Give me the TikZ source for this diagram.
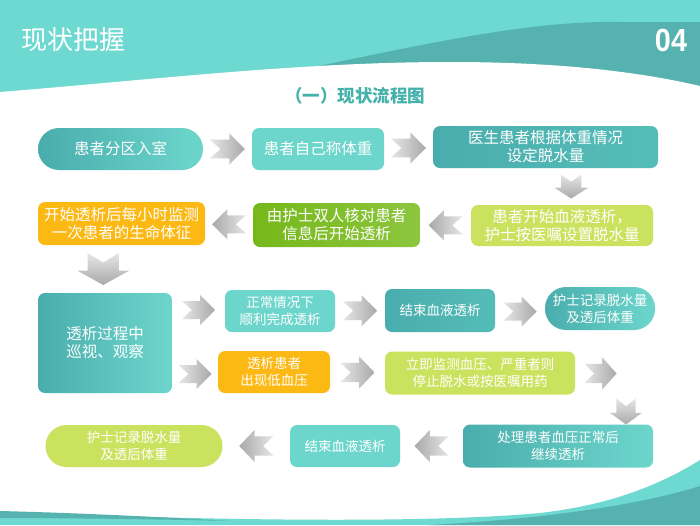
\documentclass[tikz,border=0pt]{standalone}
\usepackage{fontspec}
\setmainfont{Noto Sans CJK SC}
\newfontfamily\numfont{Liberation Sans}
\usetikzlibrary{calc}
\definecolor{hdlight}{HTML}{6DD9D0}
\definecolor{hddark}{HTML}{55B2AE}
\definecolor{teallight}{HTML}{6DD6CC}
\definecolor{tealdark}{HTML}{49ADAD}
\definecolor{tealmid}{HTML}{55BDB8}
\definecolor{amberc}{HTML}{FCB813}
\definecolor{limec}{HTML}{CBE25E}
\definecolor{greenA}{HTML}{76B81A}
\definecolor{greenB}{HTML}{8CC63E}
\definecolor{arrowlight}{HTML}{E6E6E6}
\definecolor{arrowdark}{HTML}{A9A9A9}
\definecolor{subtitle}{HTML}{45B1AB}
\begin{document}
\begin{tikzpicture}[x=1pt,y=-1pt,
  box/.style={rounded corners=7pt, text=white, align=center, inner sep=0pt},
  pill/.style={box, rounded corners=21pt},
  big/.style={font=\fontsize{15.5}{18}\selectfont},
  small/.style={font=\fontsize{13.5}{17}\selectfont},
  sz/.style 2 args={minimum width=#1pt, minimum height=#2pt},
  gteal/.style={left color=tealdark, right color=teallight},
  lteal/.style={fill=teallight},
  dteal/.style={left color=tealdark, right color=tealmid},
  amber/.style={fill=amberc},
  lime/.style={fill=limec},
  greenbox/.style={left color=greenA, right color=greenB},
  pics/barrow/.style n args={3}{code={
    \shade[shading=axis, top color=arrowlight, bottom color=arrowdark, shading angle=#3]
      (-#1/2,-0.3*#2) -- (0.05*#1,-0.3*#2) -- (0.05*#1,-#2/2) -- (#1/2,0)
      -- (0.05*#1,#2/2) -- (0.05*#1,0.3*#2) -- (-#1/2,0.3*#2) -- (-0.2*#1,0) -- cycle;
  }}
]
\useasboundingbox (0,0) rectangle (700,525);
\fill[white] (0,0) rectangle (700,525);

% header
\fill[hdlight] (0,0) rectangle (700,100);
\fill[hddark] (250,80) .. controls (400,50) and (520,20) .. (620,22) -- (700,22) -- (700,100) -- (250,100) -- cycle;
\fill[white] (0,92) .. controls (150,80) and (300,62) .. (450,62) .. controls (560,62) and (640,72) .. (700,86) -- (700,110) -- (0,110) -- cycle;

% footer
\fill[hdlight] (0,512) .. controls (200,520) and (420,524) .. (540,513) .. controls (610,505) and (660,485) .. (700,460) -- (700,525) -- (0,525) -- cycle;
\fill[hddark] (430,525) .. controls (560,518) and (650,502) .. (700,486) -- (700,525) -- cycle;
\fill[hddark] (0,511) .. controls (80,513) and (160,517) .. (230,521) .. controls (150,519) and (60,518) .. (0,518) -- cycle;

% titles
\node[text=white, font=\fontsize{26}{30}\selectfont, anchor=west, inner sep=0pt] (title) at (21,40) {现状把握};
\node[text=white, font=\numfont\bfseries\fontsize{32}{34}\selectfont, xscale=0.9, inner sep=0pt] (num) at (671,40) {04};
\node[text=subtitle, font=\bfseries\fontsize{17.5}{20}\selectfont, inner sep=0pt] (sub) at (355,96) {（一）现状流程图};

% row 1
\node[pill, big, gteal, sz={165}{42}] (A1) at (120.5,149) {患者分区入室};
\node[box, big, lteal, sz={132}{42}] (A2) at (318,149) {患者自己称体重};
\node[box, big, dteal, sz={225}{42}] (A3) at (545.5,147) {医生患者根据体重情况\\设定脱水量};

% row 2
\node[box, big, lime, sz={182}{41}] (B1) at (562,225.5) {患者开始血液透析，\\护士按医嘱设置脱水量};
\node[box, big, greenbox, sz={167}{44}] (B2) at (336.5,225) {由护士双人核对患者\\信息后开始透析};
\node[box, big, amber, sz={167}{43}] (B3) at (121.5,223.5) {开始透析后每小时监测\\一次患者的生命体征};

% row 3
\node[box, big, gteal, sz={134}{100}] (C1) at (105,343) {透析过程中\\巡视、观察};
\node[box, small, lteal, sz={110}{42}] (C2) at (280,311) {正常情况下\\顺利完成透析};
\node[box, small, dteal, sz={110}{43}] (C3) at (440,310.5) {结束血液透析};
\node[pill, small, gteal, sz={110}{43}] (C4) at (600,308.5) {护士记录脱水量\\及透后体重};

\node[box, small, amber, sz={112}{42}] (D1) at (274,372) {透析患者\\出现低血压};
\node[box, small, lime, sz={190}{43}] (D2) at (480,373) {立即监测血压、严重者则\\停止脱水或按医嘱用药};
\coordinate (Dturn) at (626,374);

% row 4
\node[box, small, gteal, sz={190}{43}] (E1) at (558,446) {处理患者血压正常后\\继续透析};
\node[box, small, lteal, sz={110}{42}] (E2) at (345,446) {结束血液透析};
\node[pill, small, lime, sz={177}{42}] (E3) at (134,446) {护士记录脱水量\\及透后体重};

% arrows
\pic at ($(A1.east)!0.5!(A2.west)$) {barrow={35}{31}{90}};
\pic at ($(A2.east)!0.5!(A3.west)$) {barrow={35}{31}{90}};
\pic[rotate=-90] at ($(A3.south)!0.5!(B1.north) + (17.5,0)$) {barrow={24}{34}{0}};
\pic[rotate=180] at ($(B1.west)!0.5!(B2.east)$) {barrow={34}{30}{-90}};
\pic[rotate=180] at ($(B2.west)!0.5!(B3.east)$) {barrow={34}{30}{-90}};
\pic[rotate=-90] at ($(B3.south)!0.5!(C1.north) + (-10,0)$) {barrow={32}{52}{0}};
\pic at ($(C1.east |- C2.west)!0.5!(C2.west) + (0,-1)$) {barrow={33}{30}{90}};
\pic at ($(C2.east)!0.5!(C3.west)$) {barrow={34}{31}{90}};
\pic at ($(C3.east)!0.5!(C4.west) + (0,2)$) {barrow={33}{30}{90}};
\pic at ($(C1.east |- D1.west)!0.5!(D1.west) + (0,2)$) {barrow={33}{30}{90}};
\pic at ($(D1.east)!0.5!(D2.west)$) {barrow={34}{32}{90}};
\pic at ($(D2.east)!0.5!(Dturn) + (0,0)$) {barrow={32}{32}{90}};
\pic[rotate=-90] at ($(Dturn |- D2.south)!0.5!(Dturn |- E1.north) + (0,2)$) {barrow={26}{32}{0}};
\pic[rotate=180] at ($(E1.west)!0.5!(E2.east)$) {barrow={34}{32}{-90}};
\pic[rotate=180] at ($(E2.west)!0.5!(E3.east)$) {barrow={34}{32}{-90}};
\end{tikzpicture}
\end{document}
